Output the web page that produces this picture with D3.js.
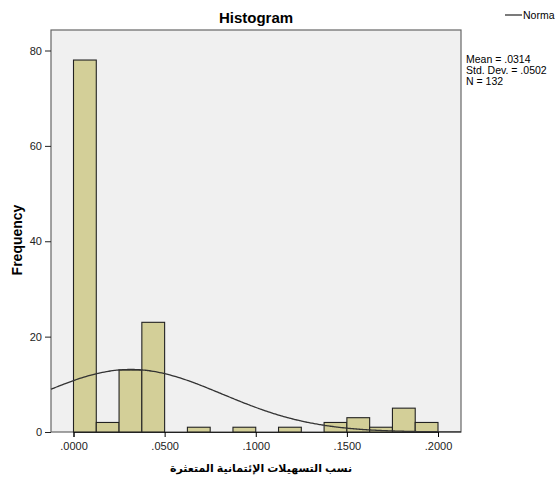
<!DOCTYPE html>
<html>
<head>
<meta charset="utf-8">
<script src="https://cdn.jsdelivr.net/npm/d3@7"></script>
<style>
  body { margin: 0; background: #fff; }
  text { font-family: Arial, "Liberation Sans", "DejaVu Sans", sans-serif; }
</style>
</head>
<body>
<div id="chart"></div>
<script>
// bins of width .0125 from 0 to .2
const binStarts = [0, 0.0125, 0.025, 0.0375, 0.05, 0.0625, 0.075, 0.0875, 0.1, 0.1125, 0.125, 0.1375, 0.15, 0.1625, 0.175, 0.1875];
const counts = [78, 2, 13, 23, 0, 1, 0, 1, 0, 1, 0, 2, 3, 1, 5, 2];
const binWidth = 0.0125;
const xTicks = [0, 0.05, 0.1, 0.15, 0.2];
const yTicks = [0, 20, 40, 60, 80];
const mean = 0.0314, sd = 0.0502, n = 132;
const statLines = ["Mean = .0314", "Std. Dev. = .0502", "N = 132"];

const width = 555, height = 480;
const frame = { left: 51, right: 461, top: 30, bottom: 432 };

const svg = d3.select("#chart").append("svg")
  .attr("width", width)
  .attr("height", height);

const x = d3.scaleLinear()
  .domain([0, 0.2])
  .range([73.5, 438]);

const y = d3.scaleLinear()
  .domain([0, 80])
  .range([frame.bottom, 50.5]);

// plot area
svg.append("rect")
  .attr("x", frame.left)
  .attr("y", frame.top)
  .attr("width", frame.right - frame.left)
  .attr("height", frame.bottom - frame.top)
  .attr("fill", "#f0f0f0")
  .attr("stroke", "#666")
  .attr("stroke-width", 1.2);

const bars = binStarts.map((b, i) => ({ x0: b, x1: b + binWidth, count: counts[i] }))
  .filter(d => d.count > 0);

svg.append("g")
  .selectAll("rect")
  .data(bars)
  .join("rect")
  .attr("x", d => x(d.x0))
  .attr("y", d => y(d.count))
  .attr("width", d => x(d.x1) - x(d.x0))
  .attr("height", d => y(0) - y(d.count))
  .attr("fill", "#d3cf98")
  .attr("stroke", "#222")
  .attr("stroke-width", 1.1);

// normal curve from the stated mean / sd
const xMin = x.invert(frame.left), xMax = x.invert(frame.right);
const curvePts = d3.range(0, 201).map(i => {
  const v = xMin + (xMax - xMin) * i / 200;
  const z = (v - mean) / sd;
  return [v, n * binWidth * Math.exp(-0.5 * z * z) / (sd * Math.sqrt(2 * Math.PI))];
});

svg.append("path")
  .datum(curvePts)
  .attr("fill", "none")
  .attr("stroke", "#333")
  .attr("stroke-width", 1.3)
  .attr("d", d3.line().x(d => x(d[0])).y(d => y(d[1])).curve(d3.curveBasis));

// axes
const xAxis = svg.append("g")
  .attr("transform", `translate(0,${frame.bottom})`)
  .call(d3.axisBottom(x).tickValues(xTicks).tickFormat(d => d3.format(".4f")(d).replace(/^0/, "")).tickSizeOuter(0).tickSize(5));
xAxis.select(".domain").attr("stroke", "#222");
xAxis.selectAll("text").attr("font-size", 11).attr("fill", "#222").attr("dy", "0.9em");

const yAxis = svg.append("g")
  .attr("transform", `translate(${frame.left},0)`)
  .call(d3.axisLeft(y).tickValues(yTicks).tickSizeOuter(0).tickSize(6));
yAxis.select(".domain").remove();
yAxis.selectAll("text").attr("font-size", 11).attr("fill", "#222");
yAxis.selectAll("line").attr("stroke", "#222");

// titles
svg.append("text")
  .attr("x", 256)
  .attr("y", 23)
  .attr("text-anchor", "middle")
  .attr("font-size", 15)
  .attr("font-weight", "bold")
  .text("Histogram");

svg.append("text")
  .attr("transform", "translate(22,240) rotate(-90)")
  .attr("text-anchor", "middle")
  .attr("font-size", 14)
  .attr("font-weight", "bold")
  .text("Frequency");

svg.append("text")
  .attr("x", 261)
  .attr("y", 472)
  .attr("text-anchor", "middle")
  .attr("font-size", 11)
  .attr("font-weight", "bold")
  .attr("direction", "rtl")
  .text("نسب التسهيلات الإئتمانية المتعثرة");

// legend
svg.append("line")
  .attr("x1", 505).attr("x2", 522)
  .attr("y1", 15).attr("y2", 15)
  .attr("stroke", "#333").attr("stroke-width", 1.3);
svg.append("text")
  .attr("x", 523)
  .attr("y", 19)
  .attr("font-size", 10.5)
  .text("Norma");

svg.append("g")
  .selectAll("text")
  .data(statLines)
  .join("text")
  .attr("x", 466)
  .attr("y", (d, i) => 63 + i * 11)
  .attr("font-size", 10.5)
  .text(d => d);
</script>
</body>
</html>
